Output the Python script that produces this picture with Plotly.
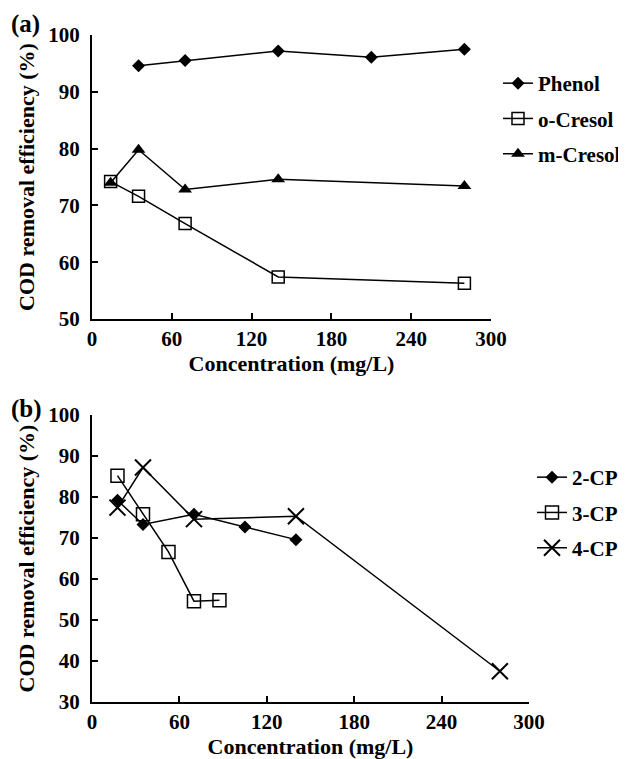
import plotly.graph_objects as go

# Panel (a)
conc_phenol = [35, 70, 140, 210, 280]
cod_phenol = [94.6, 95.5, 97.2, 96.1, 97.5]
conc_ocresol = [14, 35, 70, 140, 280]
cod_ocresol = [74.2, 71.6, 66.8, 57.4, 56.3]
conc_mcresol = [14, 35, 70, 140, 280]
cod_mcresol = [74.0, 79.8, 72.8, 74.6, 73.4]

# Panel (b)
conc_2cp = [17.5, 35, 70, 105, 140]
cod_2cp = [79.2, 73.3, 75.8, 72.7, 69.6]
conc_3cp = [17.5, 35, 52.5, 70, 87.5]
cod_3cp = [85.2, 75.8, 66.6, 54.6, 54.8]
conc_4cp = [17.5, 35, 70, 140, 280]
cod_4cp = [77.4, 87.2, 74.6, 75.3, 37.5]

x_ticks = [0, 60, 120, 180, 240, 300]

FONT = "Liberation Serif"
OFF = 8  # page body margin
W, H = 626 - OFF, 759 - OFF

def px_x(p):
    return (p - OFF) / W

def px_y(p):
    return 1 - (p - OFF) / H

fig = go.Figure()
line = dict(color="black", width=1.5)

fig.add_trace(go.Scatter(x=conc_phenol, y=cod_phenol, name="Phenol", mode="lines+markers",
                         line=line, marker=dict(symbol="diamond", size=10, color="black"),
                         xaxis="x", yaxis="y", legend="legend", legendgroup="a1"))
fig.add_trace(go.Scatter(x=conc_ocresol, y=cod_ocresol, name="o-Cresol", mode="lines+markers",
                         line=line, marker=dict(symbol="square-open", size=12, color="black",
                                                line=dict(width=1.5, color="black")),
                         xaxis="x", yaxis="y", legend="legend", legendgroup="a2"))
fig.add_trace(go.Scatter(x=conc_mcresol, y=cod_mcresol, name="m-Cresol", mode="lines+markers",
                         line=line, marker=dict(symbol="triangle-up", size=12, color="black"),
                         xaxis="x", yaxis="y", legend="legend", legendgroup="a3"))

fig.add_trace(go.Scatter(x=conc_2cp, y=cod_2cp, name="2-CP", mode="lines+markers",
                         line=line, marker=dict(symbol="diamond", size=10, color="black"),
                         xaxis="x2", yaxis="y2", legend="legend2", legendgroup="b1"))
fig.add_trace(go.Scatter(x=conc_3cp, y=cod_3cp, name="3-CP", mode="lines+markers",
                         line=line, marker=dict(symbol="square-open", size=13, color="black",
                                                line=dict(width=1.5, color="black")),
                         xaxis="x2", yaxis="y2", legend="legend2", legendgroup="b2"))
fig.add_trace(go.Scatter(x=conc_4cp, y=cod_4cp, name="4-CP", mode="lines+markers",
                         line=line, marker=dict(symbol="x-thin-open", size=16, color="black",
                                                line=dict(width=2, color="black")),
                         xaxis="x2", yaxis="y2", legend="legend2", legendgroup="b3"))

tickfont = dict(family=FONT, size=21, color="black", weight="bold")
xtitlefont = dict(family=FONT, size=22, color="black", weight="bold")
ytitlefont = dict(family=FONT, size=22, color="black", weight="bold")

def xaxis(domain, anchor):
    return dict(domain=domain, anchor=anchor, range=[0, 300], tickvals=x_ticks,
                automargin=False,
                showline=True, linecolor="black", linewidth=2, mirror=False,
                ticks="inside", ticklen=6, tickcolor="black", tickwidth=1.5,
                showgrid=False, zeroline=False, tickfont=tickfont, ticklabelstandoff=0,
                title=dict(text="Concentration (mg/L)", font=xtitlefont, standoff=4))

def yaxis(domain, anchor, rng, dtick):
    return dict(domain=domain, anchor=anchor, range=rng, dtick=dtick, tick0=0,
                automargin=False,
                showline=True, linecolor="black", linewidth=2,
                ticks="inside", ticklen=6, tickcolor="black", tickwidth=1.5,
                showgrid=False, zeroline=False, tickfont=tickfont, ticklabelstandoff=6,
                title=dict(text="COD removal efficiency (%)", font=ytitlefont, standoff=8))

legfont = dict(family=FONT, size=21, color="black", weight="bold")

fig.update_layout(
    template="none",
    width=W, height=H,
    margin=dict(l=0, r=0, t=0, b=0),
    paper_bgcolor="white", plot_bgcolor="white",
    showlegend=True,
    xaxis=xaxis([px_x(92), px_x(491)], "y"),
    yaxis=yaxis([px_y(319), px_y(35)], "x", [50, 100], 10),
    xaxis2=xaxis([px_x(92), px_x(529)], "y2"),
    yaxis2=yaxis([px_y(702), px_y(415)], "x2", [30, 100], 10),
    legend=dict(x=px_x(498), y=px_y(63), xanchor="left", yanchor="top", font=legfont,
                bgcolor="rgba(0,0,0,0)", tracegroupgap=5, borderwidth=0),
    legend2=dict(x=px_x(532), y=px_y(457), xanchor="left", yanchor="top", font=legfont,
                 bgcolor="rgba(0,0,0,0)", tracegroupgap=5, borderwidth=0),
    annotations=[
        dict(text="(a)", x=px_x(9), y=px_y(24), xref="paper", yref="paper", xanchor="left",
             yanchor="middle", showarrow=False, font=dict(family=FONT, size=25, color="black", weight="bold")),
        dict(text="(b)", x=px_x(9), y=px_y(409), xref="paper", yref="paper", xanchor="left",
             yanchor="middle", showarrow=False, font=dict(family=FONT, size=25, color="black", weight="bold")),
    ],
)

fig.write_html("out.html")
